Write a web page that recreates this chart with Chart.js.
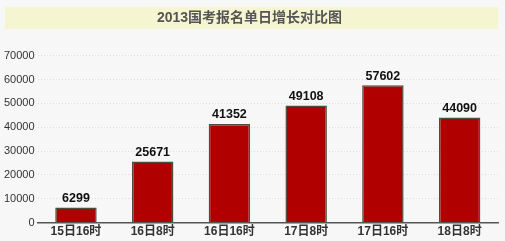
<!DOCTYPE html>
<html>
<head>
<meta charset="utf-8">
<script src="https://cdn.jsdelivr.net/npm/chart.js@4/dist/chart.umd.min.js"></script>
<style>
  html, body { margin: 0; padding: 0; background: #f7f7f7; }
  #wrap { width: 505px; height: 241px; position: relative; }
</style>
</head>
<body>
<div id="wrap"><canvas id="bar-graph"></canvas></div>
<script>
// data
const chartTitle = "2013国考报名单日增长对比图";
const categories = ["15日16时", "16日8时", "16日16时", "17日8时", "17日16时", "18日8时"];
const signups = [6299, 25671, 41352, 49108, 57602, 44090];
const yMax = 70000;
const yStep = 10000;

const fontFamily = "'Liberation Sans', Arial, 'Noto Sans CJK SC', sans-serif";

// background + yellow title band
const backdrop = {
    id: 'backdrop',
    beforeDraw(chart) {
        let ctx = chart.ctx;
        ctx.save();
        ctx.fillStyle = "#f7f7f7";
        ctx.fillRect(0, 0, chart.width, chart.height);
        ctx.fillStyle = "#f6f5d2";
        ctx.fillRect(5, 7, 493, 22);
        ctx.restore();
    }
};

// value labels above each bar
const valueLabels = {
    id: 'valueLabels',
    afterDatasetsDraw(chart) {
        let ctx = chart.ctx;
        let meta = chart.getDatasetMeta(0);
        ctx.save();
        ctx.font = "bold 12.5px " + fontFamily;
        ctx.fillStyle = "#111";
        ctx.textAlign = "center";
        ctx.textBaseline = "bottom";
        meta.data.forEach((bar, i) => {
            ctx.fillText(signups[i], bar.x, bar.y - 3);
        });
        ctx.restore();
    }
};

new Chart(document.getElementById('bar-graph').getContext('2d'), {
    type: 'bar',
    data: {
        labels: categories,
        datasets: [{
            label: "报名人数",
            data: signups,
            backgroundColor: "#b00000",
            borderColor: "#4d4d40",
            borderWidth: 1.5,
            barPercentage: 0.54,
            categoryPercentage: 1
        }]
    },
    options: {
        responsive: true,
        maintainAspectRatio: false,
        animation: false,
        layout: { padding: { left: 1, right: 7, bottom: 0 } },
        plugins: {
            legend: { display: false },
            tooltip: { enabled: false },
            title: {
                display: true,
                text: chartTitle,
                color: "#555",
                font: { family: fontFamily, size: 14, weight: 'bold' },
                padding: { top: 10, bottom: 29 }
            }
        },
        scales: {
            x: {
                grid: { display: false, drawTicks: false },
                border: { display: true, color: "#555", width: 1.5 },
                ticks: {
                    color: "#333",
                    font: { family: fontFamily, size: 12, weight: 'bold' },
                    padding: 2,
                    maxRotation: 0
                }
            },
            y: {
                min: 0,
                max: yMax,
                ticks: {
                    stepSize: yStep,
                    color: "#333",
                    font: { family: fontFamily, size: 11 },
                    padding: 3,
                    callback: (value) => String(value)
                },
                grid: { color: "#ddd", drawTicks: false },
                border: { display: false, dash: [1, 2] }
            }
        }
    },
    plugins: [backdrop, valueLabels]
});
</script>
</body>
</html>
